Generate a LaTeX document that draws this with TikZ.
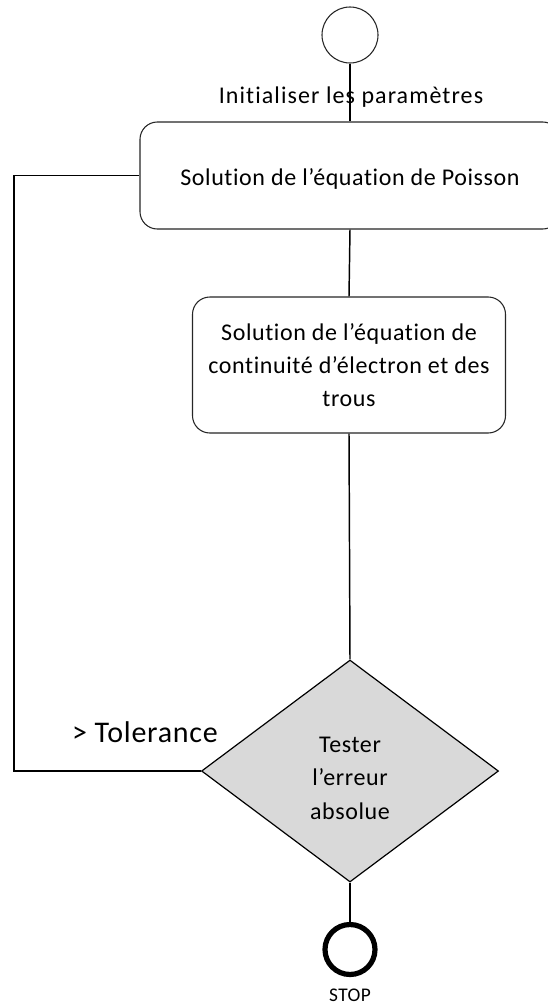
\documentclass[tikz,border=0pt]{standalone}
\usepackage{fontspec}
\setmainfont{Carlito}[LetterSpace=2.5,Ligatures={NoCommon,NoDiscretionary}]
\newfontfamily\widefont{Carlito}[LetterSpace=4.5,Ligatures={NoCommon,NoDiscretionary}]
\usetikzlibrary{shapes.geometric}
\definecolor{diagray}{HTML}{D9D9D9}
\tikzset{
  conn/.style={draw=black, line width=1.1pt},
  procbox/.style={draw=black!85, line width=0.8pt, rounded corners=13pt, fill=white, inner sep=0pt, align=center, font=\fontsize{18}{24.9}\selectfont},
  startcirc/.style={circle, draw=black!85, line width=0.8pt, fill=white, minimum size=42pt, inner sep=0pt},
  stopcirc/.style={circle, draw=black, line width=3.9pt, fill=white, minimum size=37.5pt, inner sep=0pt},
  decision/.style={diamond, draw=black, line width=0.9pt, fill=diagray, minimum width=222.75pt, minimum height=166.5pt, inner sep=0pt},
  lbl/.style={inner sep=0pt, font=\fontsize{18}{21}\selectfont}
}
\begin{document}
\begin{tikzpicture}[x=0.75pt,y=-0.75pt]
\clip (0,0) rectangle (548,1006);
\useasboundingbox (0,0) rectangle (548,1006);
\node[startcirc] (start) at (350,35) {};
\node[lbl, font=\widefont\fontsize{18}{21}\selectfont] (init) at (351,97) {Initialiser les paramètres};
\node[procbox, minimum width=315pt, minimum height=80.25pt] (box1) at (350,175.5) {};
\node[lbl] (box1txt) at (350,179) {Solution de l’équation de Poisson};
\node[procbox, minimum width=234.75pt, minimum height=102pt] (box2) at (349,365) {Solution de l’équation de\\continuité d’électron et des\\trous};
\node[decision] (dia) at (350,771) {};
\node[lbl, align=center, font=\fontsize{18}{25.1}\selectfont] (diatxt) at (350,778) {Tester\\l’erreur\\absolue};
\node[stopcirc] (stop) at (350,949.5) {};
\node[lbl, font=\fontsize{14.5}{16}\selectfont] (stoplbl) at (350,995) {STOP};
\node[lbl, font=\fontsize{22.5}{27}\selectfont] (tol) at (145,732) {> Tolerance};
\coordinate (lp) at (14,771);
\draw[conn] (start.south) -- (box1.north);
\draw[conn] (box1.south) -- (box2.north);
\draw[conn] (box2.south) -- (dia.north);
\draw[conn] (dia.south) -- (stop.north);
\draw[conn] (dia.west) -- (lp) |- (box1.west);
\end{tikzpicture}
\end{document}
